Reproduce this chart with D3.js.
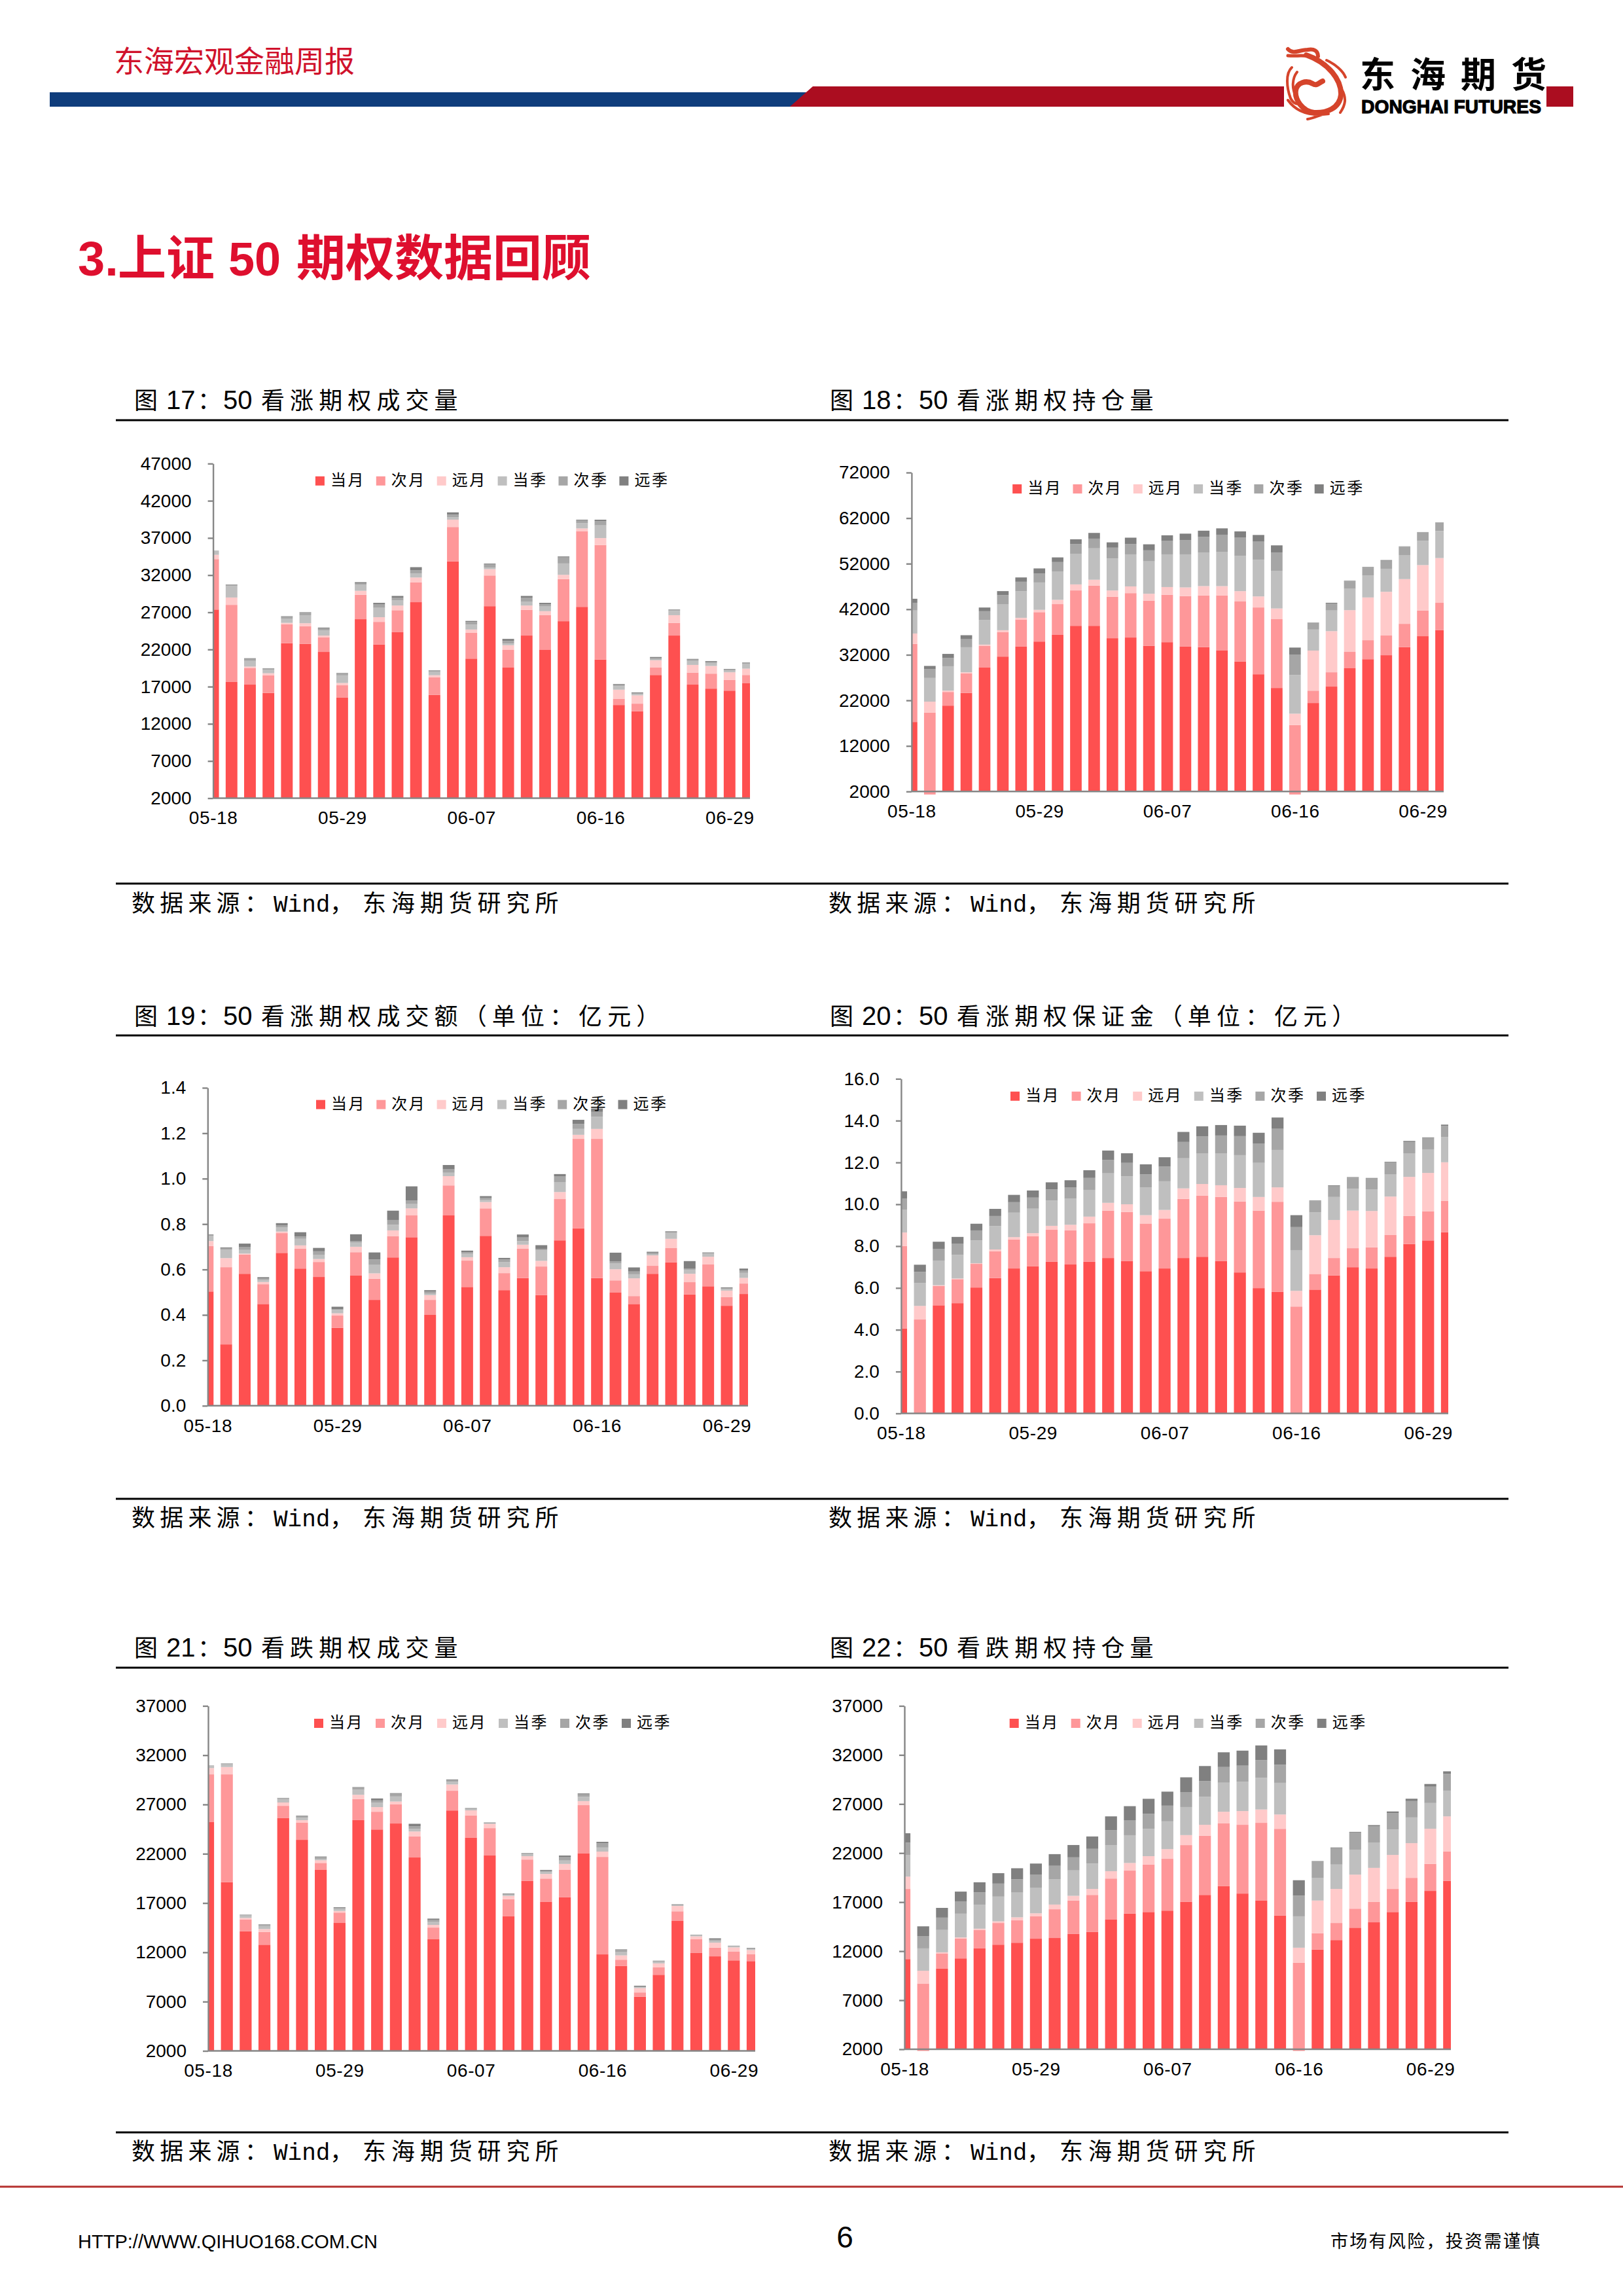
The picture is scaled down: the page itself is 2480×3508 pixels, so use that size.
<!DOCTYPE html>
<html lang="zh-CN">
<head>
<meta charset="utf-8">
<title>东海宏观金融周报</title>
<script src="https://cdn.jsdelivr.net/npm/d3@7/dist/d3.min.js"></script>
<style>
html,body{margin:0;padding:0;background:#fff}
svg{display:block}
text{font-family:"Liberation Sans","Noto Sans CJK SC",sans-serif;fill:#000}
.cjk{font-family:"Noto Sans CJK SC",sans-serif}
</style>
</head>
<body>
<div id="page"></div>
<script>
const categories = ["05-18","05-21","05-22","05-23","05-24","05-25","05-28","05-29","05-30","05-31","06-01","06-04","06-05","06-06","06-07","06-08","06-11","06-12","06-13","06-14","06-15","06-16","06-19","06-20","06-21","06-22","06-25","06-26","06-29","06-30"];
const xTickLabels = ["05-18","05-29","06-07","06-16","06-29"];
const seriesNames = ["当月","次月","远月","当季","次季","远季"];
const seriesColors = ["#fe5050","#fe9799","#ffcaca","#bfbfbf","#a6a6a6","#808080"];

// 图 17
const c17a=[27370,17630,17270,16150,22840,22750,21670,15520,26070,22660,24320,28360,15880,33840,20770,27820,19560,23870,21940,25800,27730,20640,14530,13680,18570,23870,17270,16730,16460,17450];
const c17b=[6780,10370,2250,2380,2560,2380,1980,1660,3280,3050,2960,2650,2380,4630,3460,4130,2380,3460,4670,5660,10190,15400,850,1030,990,1710,1620,2020,1440,1120];
const c17c=[580,990,180,270,180,400,220,310,540,630,630,670,270,990,450,850,630,580,540,580,360,940,1210,1120,990,1030,1030,1030,1030,850];
const c17d=[580,1530,760,450,580,1080,670,1030,850,1260,670,540,450,310,670,220,220,490,630,1530,720,1710,490,180,90,580,540,400,220,670];
const c17e=[0,180,270,180,220,310,270,220,180,450,400,450,180,360,360,400,360,580,310,810,360,580,180,130,220,90,180,130,130,130];
const c17f=[0,50,90,50,90,90,130,90,130,220,220,400,50,310,130,130,270,220,180,130,90,180,90,90,130,90,90,130,90,50];
const yTicks17=[2000,7000,12000,17000,22000,27000,32000,37000,42000,47000];

// 图 18
const c18a=[17250,1340,20840,23620,29190,31610,33810,34910,36380,38360,38360,35640,35790,33960,34770,33810,33670,32930,30510,27730,24720,1340,21420,25020,29050,31030,31910,33670,36080,37400];
const c18b=[17150,17960,3010,4320,4760,5350,5940,6450,6740,7770,8800,9090,9750,9900,10410,11070,11360,12090,13190,14660,15100,15250,2710,3150,3590,4180,4320,5130,5640,6010];
const c18c=[2270,2420,290,220,290,440,370,510,950,1320,1320,1390,1470,1540,1690,1910,2050,2050,2270,2420,2350,2490,8800,9020,9160,9380,9600,9820,9970,9820];
const c18d=[5060,5200,5350,5500,5420,5720,5860,6010,6230,6740,6890,7040,7040,7110,7180,7260,7400,7550,7770,8060,8280,8500,4620,4540,4690,4840,5060,5280,5350,5940];
const c18e=[1690,1910,1830,1760,1910,1980,2050,1980,2050,2130,2130,2350,2270,2420,2930,3150,3370,3740,3960,3960,4030,4470,1470,1540,1610,1690,1760,1830,1830,1830];
const c18f=[880,730,880,880,810,880,950,1100,1030,1030,1250,1170,1390,1320,1250,1390,1390,1390,1390,1470,1540,1540,70,150,150,150,150,70,70,70];
const yTicks18=[2000,12000,22000,32000,42000,52000,62000,72000];

// 图 19
const c19a=[.503,.270,.581,.448,.673,.604,.567,.343,.573,.466,.653,.742,.400,.838,.523,.748,.509,.562,.487,.728,.781,.562,.498,.448,.581,.631,.490,.526,.440,.492];
const c19b=[.200,.340,.085,.087,.087,.087,.066,.054,.103,.093,.093,.096,.066,.132,.116,.121,.075,.129,.126,.182,.394,.613,.054,.035,.035,.063,.054,.096,.038,.046];
const c19c=[.022,.040,.004,.010,.007,.015,.013,.010,.024,.024,.026,.031,.021,.041,.015,.028,.026,.018,.025,.031,.018,.044,.049,.078,.046,.041,.037,.034,.029,.025];
const c19d=[.022,.038,.016,.009,.019,.029,.019,.015,.018,.037,.025,.019,.006,.015,.015,.010,.022,.016,.046,.044,.026,.053,.025,.018,.006,.026,.018,.013,.007,.022];
const c19e=[.003,.006,.012,.006,.009,.010,.015,.004,.006,.024,.021,.016,.009,.015,.007,.009,.012,.016,.007,.026,.022,.022,.010,.012,.006,.003,.004,.003,.004,.010];
const c19f=[.004,.003,.016,.006,.009,.019,.015,.010,.031,.031,.041,.062,.007,.019,.007,.007,.007,.013,.016,.009,.018,.015,.038,.018,.004,.004,.034,.003,.003,.009];
const yTicks19=[0,.2,.4,.6,.8,1,1.2,1.4];

// 图 20
const c20a=[4.06,0,5.17,5.27,6.02,6.47,6.93,7.03,7.25,7.12,7.25,7.43,7.28,6.80,6.93,7.43,7.49,7.28,6.74,5.99,5.81,0,5.92,6.60,6.99,6.93,7.49,8.10,8.27,8.66];
const c20b=[3.94,4.49,.93,1.15,1.13,1.29,1.39,1.45,1.53,1.63,1.84,2.27,2.35,2.28,2.38,2.83,2.92,3.07,3.39,3.71,4.31,5.11,.75,.83,.91,1.01,1.04,1.34,1.39,1.50];
const c20c=[.65,.65,.03,.03,.03,.08,.11,.14,.19,.27,.32,.37,.37,.40,.42,.50,.56,.56,.65,.65,.69,.75,1.85,1.82,1.80,1.74,1.84,1.87,1.84,1.85];
const c20d=[1.10,1.10,1.18,1.13,1.09,1.12,1.17,1.17,1.21,1.26,1.28,1.41,1.34,1.33,1.37,1.44,1.47,1.53,1.57,1.63,1.79,1.95,1.10,1.10,1.04,1.04,1.07,1.13,1.13,1.21];
const c20e=[.53,.53,.56,.54,.48,.48,.50,.53,.53,.53,.57,.64,.64,.62,.70,.78,.81,.85,.91,.93,1.01,1.10,.53,.53,.53,.51,.56,.54,.54,.53];
const c20f=[.34,.34,.34,.32,.32,.34,.35,.34,.34,.34,.37,.45,.46,.48,.45,.48,.48,.50,.50,.51,.54,.57,.03,.03,.03,.03,.03,.05,.03,.06];
const yTicks20=[0,2,4,6,8,10,12,14,16];

// 图 21
const c21a=[25210,19110,14130,12770,25610,23410,20360,14980,25410,24460,25070,21620,13320,26390,23620,21820,15650,19240,17110,17580,22020,11790,10610,7490,9720,15180,11930,11590,11180,11110];
const c21b=[4840,10940,1190,1290,1250,1730,710,1050,2130,1800,1930,2130,1190,2000,2270,2780,1730,2170,2370,2780,4910,9890,640,440,750,980,1390,880,880,710];
const c21c=[640,750,170,300,340,270,270,170,440,470,300,510,270,640,510,440,340,340,470,610,410,540,440,440,410,540,300,510,440,410];
const c21d=[200,270,240,300,340,240,140,200,510,440,510,270,300,270,140,30,100,170,200,340,440,410,370,70,140,70,70,200,70,70];
const c21e=[30,70,70,100,100,140,170,100,200,240,270,270,200,170,70,70,70,70,140,340,240,440,170,100,100,70,70,140,70,70];
const c21f=[30,30,30,70,30,70,70,70,70,200,70,240,140,70,30,30,70,70,70,170,100,140,70,70,30,30,30,100,30,70];
const yTicks21=[2000,7000,12000,17000,22000,27000,32000,37000];

// 图 22
const c22a=[11190,1830,10210,11260,12280,12660,12860,13270,13340,13750,13950,15210,15820,15990,16130,17020,17730,18620,17870,17150,15620,1830,12150,13130,14390,14940,15990,17020,18140,19160];
const c22b=[7150,6840,1530,2040,1870,2210,2280,2280,2930,3410,3780,4190,4390,4840,5280,5790,6030,6400,7010,7930,8850,8990,1670,1740,1940,2080,2350,2450,2760,3000];
const c22c=[1260,1330,140,100,140,170,310,310,480,480,610,750,780,850,990,1020,1120,1190,1400,1360,1460,1530,3340,3470,3470,3470,3470,3540,3580,3580];
const c22d=[2210,2280,2280,2420,2450,2520,2520,2620,2590,2590,2590,2660,2830,2790,2830,2860,2860,2960,3000,3230,3230,3200,2320,2490,2550,2590,2590,2620,2620,2620];
const c22e=[1260,1260,1260,1260,1260,1330,1360,1330,1360,1330,1500,1530,1530,1530,1600,1530,1600,1600,1630,1800,1840,2110,1630,1670,1740,1670,1670,1670,1670,1700];
const c22f=[950,990,990,990,1020,1060,1120,1120,1190,1260,1260,1400,1430,1530,1430,1500,1530,1500,1530,1500,1570,1570,70,70,70,100,170,240,270,270];
const yTicks22=[2000,7000,12000,17000,22000,27000,32000,37000];

const charts=[
 {series:[c17a,c17b,c17c,c17d,c17e,c17f],ticks:yTicks17,fmt:d3.format("d"),no:"17",rest:"看涨期权成交量",tx:205,ty:612,
  left:325.6,top:708.3,bottom:1219.5,last:1143,right:1146,lx:481.9,ly:734.8,ls:92.9},
 {series:[c18a,c18b,c18c,c18d,c18e,c18f],ticks:yTicks18,fmt:d3.format("d"),no:"18",rest:"看涨期权持仓量",tx:1268,ty:612,
  left:1392.9,top:722,bottom:1209.3,last:2202,right:2206,lx:1547.2,ly:747,ls:92.3},
 {series:[c19a,c19b,c19c,c19d,c19e,c19f],ticks:yTicks19,fmt:d3.format(".1f"),no:"19",rest:"看涨期权成交额（单位：亿元）",tx:205,ty:1553,
  left:317.3,top:1662,bottom:2147.8,last:1138.8,right:1143,lx:483,ly:1687.6,ls:92.3},
 {series:[c20a,c20b,c20c,c20d,c20e,c20f],ticks:yTicks20,fmt:d3.format(".1f"),no:"20",rest:"看涨期权保证金（单位：亿元）",tx:1268,ty:1553,
  left:1376.9,top:1648.3,bottom:2159.5,last:2211,right:2213,lx:1544,ly:1674.8,ls:93.6},
 {series:[c21a,c21b,c21c,c21d,c21e,c21f],ticks:yTicks21,fmt:d3.format("d"),no:"21",rest:"看跌期权成交量",tx:205,ty:2517.6,
  left:318,top:2606.4,bottom:3133.5,last:1150,right:1154,lx:480,ly:2633,ls:94},
 {series:[c22a,c22b,c22c,c22d,c22e,c22f],ticks:yTicks22,fmt:d3.format("d"),no:"22",rest:"看跌期权持仓量",tx:1268,ty:2517.6,
  left:1382,top:2606.4,bottom:3131,last:2214.3,right:2217,lx:1542.7,ly:2633,ls:94}
];

const svg=d3.select("#page").append("svg").attr("width",2480).attr("height",3508).attr("viewBox","0 0 2480 3508");
svg.append("rect").attr("width",2480).attr("height",3508).attr("fill","#fff");

function fitText(parent,str,x0,x1,cy,size,opts={}){
  return parent.append("text").attr("x",x0).attr("y",cy+size*0.36)
    .attr("textLength",x1-x0).attr("lengthAdjust",opts.adjust||"spacing")
    .attr("font-size",size).attr("font-weight",opts.weight||"normal")
    .style("fill",opts.fill||"#000").text(str);
}
// a line made of separately placed runs: {t,x,size,ls,font}
function runs(parent,list,cy,opts={}){
  list.forEach(r=>{
    parent.append("text").attr("x",r.x).attr("y",cy+(opts.base||36)*0.36)
      .attr("font-size",r.size).attr("font-weight",opts.weight||"normal")
      .style("letter-spacing",(r.ls||0)+"px")
      .style("font-family",r.font||'"Noto Sans CJK SC",sans-serif')
      .style("fill",opts.fill||"#000").text(r.t);
  });
}
const LAT='"Liberation Sans",sans-serif', MONO='"Liberation Mono",monospace';

// ---- header ----
const head=svg.append("g");
head.append("rect").attr("x",76).attr("y",141).attr("width",1160).attr("height",22).attr("fill","#0f3d7c");
head.append("polygon").attr("points","1207,163 1242,132 2404,132 2404,163").attr("fill","#ab0d20");
head.append("rect").attr("x",1962).attr("y",66).attr("width",401).attr("height",122).attr("fill","#fff");
runs(head,[{t:"东海宏观金融周报",x:174,size:46}],93,{fill:"#d0122c",base:46});
// logo
const logo=head.append("g").attr("fill","none").attr("stroke","#d5442b").attr("stroke-linecap","round").attr("stroke-linejoin","round");
logo.append("path").attr("stroke-width",6).attr("d","M1968,75 C1976,84 1986,76 1998,76 C2008,74 2014,78 2014,86");
logo.append("path").attr("stroke-width",5).attr("d","M1968,85 C1980,86 1990,84 2002,86");
logo.append("path").attr("stroke-width",8).attr("d","M1996,84 C2030,96 2050,122 2049,145 C2047,166 2026,173 2008,172 C1990,170 1978,152 1980,138 C1982,126 1996,122 2006,128 C2012,132 2016,126 2021,124");
logo.append("path").attr("stroke-width",4).attr("d","M2027,92 C2040,98 2052,108 2056,118 M2050,136 C2058,150 2056,160 2048,172 M1974,103 C1964,112 1966,134 1972,150 C1976,158 1982,160 1986,158 M1982,110 C1974,120 1974,136 1980,146 M1968,153 C1980,170 2000,178 2030,174 M1998,182 C2008,180 2016,176 2024,174");
head.append("text").attr("x",2078).attr("y",134).attr("font-size",54).attr("font-weight","bold")
  .style("font-family",'"Noto Sans CJK SC",sans-serif').style("letter-spacing","23px").text("东海期货");
head.append("text").attr("x",2080).attr("y",173).attr("textLength",275).attr("lengthAdjust","spacingAndGlyphs")
  .attr("font-size",30).attr("font-weight","bold").attr("stroke","#000").attr("stroke-width",1.2).text("DONGHAI FUTURES");
runs(svg,[
  {t:"3.",x:119,size:74,font:LAT},
  {t:"上证",x:180,size:74},
  {t:"50",x:349,size:72,font:LAT},
  {t:"期权数据回顾",x:453,size:75}
],394,{weight:"bold",fill:"#de0f2e",base:74});

// ---- charts ----
charts.forEach((c,ci)=>{
  const g=svg.append("g");
  const x=d3.scalePoint().domain(categories).range([c.left,c.last]);
  const y=d3.scaleLinear().domain(d3.extent(c.ticks)).range([c.bottom,c.top]);
  const barW=x.step()*0.635;
  const clipId="clip"+ci;
  g.append("clipPath").attr("id",clipId).append("rect")
    .attr("x",c.left).attr("y",c.top-20).attr("width",c.right-c.left).attr("height",c.bottom-c.top+40);

  // running stack: a first value under the axis minimum is not drawn, the next segment starts from it
  const rows=categories.map((cat,i)=>{
    let acc=null;
    return c.series.map((s,si)=>{
      const from=acc===null?y.domain()[0]:acc;
      const to=(acc===null?0:acc)+s[i];
      acc=to;
      return {cat,si,from,to};
    });
  }).flat().filter(d=>d.to>d.from);

  g.append("g").attr("clip-path",`url(#${clipId})`).selectAll("rect").data(rows).join("rect")
    .attr("x",d=>x(d.cat)-barW/2).attr("width",barW)
    .attr("y",d=>y(d.to)).attr("height",d=>y(d.from)-y(d.to))
    .attr("fill",d=>seriesColors[d.si]);

  const yAxis=d3.axisLeft(y).tickValues(c.ticks).tickFormat(c.fmt).tickSize(8).tickSizeOuter(0).tickPadding(25);
  const ay=g.append("g").attr("transform",`translate(${c.left},0)`).call(yAxis);
  const tickCats=categories.filter(k=>xTickLabels.includes(k));
  const xAxis=d3.axisBottom(x).tickValues(tickCats).tickSize(0).tickPadding(20);
  const ax=g.append("g").attr("transform",`translate(0,${c.bottom})`).call(xAxis);
  ax.select(".domain").attr("d",`M${c.left},0H${c.right}`);
  [ay,ax].forEach(a=>{
    a.attr("font-family",null).attr("font-size",null);
    a.selectAll("text").attr("font-size",28).style("font-family",LAT);
    a.selectAll("path,line").attr("stroke","#868686").attr("stroke-width",2.4);
  });
  ax.selectAll("text").style("letter-spacing","0.6px");

  const leg=g.append("g").selectAll("g").data(seriesNames).join("g")
    .attr("transform",(d,i)=>`translate(${c.lx+i*c.ls},${c.ly})`);
  leg.append("rect").attr("x",0).attr("y",-7).attr("width",14).attr("height",14).attr("fill",(d,i)=>seriesColors[i]);
  leg.append("text").attr("class","cjk").attr("x",23).attr("y",7).attr("font-size",24).style("letter-spacing","2.5px").text(d=>d);

  runs(svg,[
    {t:"图",x:c.tx,size:36},
    {t:c.no,x:c.tx+49,size:40,font:LAT},
    {t:"：",x:c.tx+97,size:36},
    {t:"50",x:c.tx+136,size:40,font:LAT},
    {t:c.rest,x:c.tx+194,size:36,ls:8.1}
  ],c.ty);
});

// ---- rules and sources ----
[642,1582,2548].forEach(yy=>svg.append("line").attr("x1",177).attr("x2",2305).attr("y1",yy).attr("y2",yy).attr("stroke","#000").attr("stroke-width",3));
[1350,2290,3258].forEach(yy=>svg.append("line").attr("x1",177).attr("x2",2305).attr("y1",yy).attr("y2",yy).attr("stroke","#000").attr("stroke-width",3));
[1380,2319,3287].forEach(yy=>{
  [201,1266].forEach(x0=>runs(svg,[
    {t:"数据来源：",x:x0,size:36,ls:7.2},
    {t:"Wind",x:x0+217,size:36,font:MONO},
    {t:"，",x:x0+303,size:36},
    {t:"东海期货研究所",x:x0+353,size:36,ls:7.9}
  ],yy));
});

// ---- footer ----
svg.append("line").attr("x1",0).attr("x2",2480).attr("y1",3341).attr("y2",3341).attr("stroke","#b5302e").attr("stroke-width",3);
fitText(svg,"HTTP://WWW.QIHUO168.COM.CN",119,577,3424,30,{adjust:"spacingAndGlyphs"});
svg.append("text").attr("x",1291).attr("y",3434).attr("text-anchor","middle").attr("font-size",46).text("6");
fitText(svg,"市场有风险，投资需谨慎",2033,2353,3424,27);
</script>
</body>
</html>
